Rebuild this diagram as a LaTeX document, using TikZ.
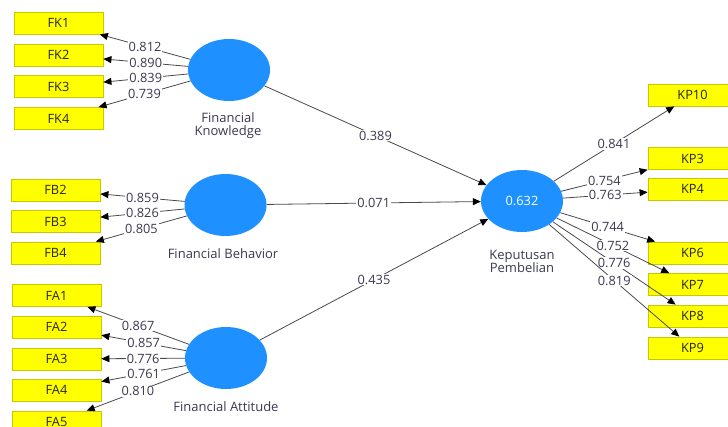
\documentclass[tikz,border=0pt]{standalone}
\usepackage{fontspec}
\setmainfont{Open Sans}
\usetikzlibrary{arrows.meta,shapes.geometric}
\definecolor{lvblue}{HTML}{1E90FF}
\definecolor{mvyellow}{HTML}{FFFF00}
\definecolor{mvborder}{HTML}{C8C800}
\definecolor{lbltext}{HTML}{3A3A50}
\definecolor{boxtext}{HTML}{262626}
\definecolor{linegray}{HTML}{4A4A4A}
\tikzset{
  mv/.style={draw=mvborder, fill=mvyellow, line width=0.8pt, minimum width=89pt, minimum height=22pt, inner sep=0pt, text=boxtext, font=\fontsize{12.8}{14}\selectfont},
  lv/.style={ellipse, fill=lvblue, minimum width=82pt, minimum height=62pt, inner sep=0pt, text=white, font=\fontsize{12.8}{14}\selectfont},
  lvname/.style={align=center, text=lbltext, font=\fontsize{13}{14}\selectfont},
  conn/.style={draw=linegray, line width=0.8pt, -{Triangle[length=8pt,width=7pt,color=black]}},
  wt/.style={fill=white, inner sep=1pt, text=lbltext, font=\fontsize{12.8}{14}\selectfont, pos=0.5}
}
\begin{document}
\begin{tikzpicture}[x=1pt,y=-1pt]
\path[use as bounding box, clip] (0,0) rectangle (728,427);
\fill[white] (0,0) rectangle (728,427);
% latent variables
\node[lv] (fk) at (229,70) {};
\node[lv] (fb) at (225.5,205) {};
\node[lv] (fa) at (226,358) {};
\node[lv] (kp) at (522,201) {0.632};
\node[lvname] (fkn) at (228,126) {Financial\\[-1pt]Knowledge};
\node[lvname] (fbn) at (223,254) {Financial Behavior};
\node[lvname] (fan) at (226,407) {Financial Attitude};
\node[lvname] (kpn) at (522,261) {Keputusan\\[-1pt]Pembelian};
% indicators
\node[mv] (fk1) at (58.5,23) {FK1};
\node[mv] (fk2) at (58.5,55) {FK2};
\node[mv] (fk3) at (58.5,86.5) {FK3};
\node[mv] (fk4) at (58.5,118.5) {FK4};
\node[mv] (fb2) at (55.5,190) {FB2};
\node[mv] (fb3) at (55.5,221.5) {FB3};
\node[mv] (fb4) at (55.5,253) {FB4};
\node[mv] (fa1) at (56.5,295.5) {FA1};
\node[mv] (fa2) at (56.5,327) {FA2};
\node[mv] (fa3) at (56.5,359) {FA3};
\node[mv] (fa4) at (56.5,390) {FA4};
\node[mv] (fa5) at (56.5,422) {FA5};
\node[mv] (kp10) at (692.5,95) {KP10};
\node[mv] (kp3) at (692.5,158.5) {KP3};
\node[mv] (kp4) at (692.5,189) {KP4};
\node[mv] (kp6) at (692.5,253) {KP6};
\node[mv] (kp7) at (692.5,284.5) {KP7};
\node[mv] (kp8) at (692.5,316) {KP8};
\node[mv] (kp9) at (692.5,348) {KP9};
% outer loadings
\draw[conn] (fk) -- node[wt] (l1) {0.812} (fk1);
\draw[conn] (fk) -- node[wt] (l2) {0.890} (fk2);
\draw[conn] (fk) -- node[wt] (l3) {0.839} (fk3);
\draw[conn] (fk) -- node[wt] (l4) {0.739} (fk4);
\draw[conn] (fb) -- node[wt] (l5) {0.859} (fb2);
\draw[conn] (fb) -- node[wt] (l6) {0.826} (fb3);
\draw[conn] (fb) -- node[wt] (l7) {0.805} (fb4);
\draw[conn] (fa) -- node[wt] (l8) {0.867} (fa1);
\draw[conn] (fa) -- node[wt] (l9) {0.857} (fa2);
\draw[conn] (fa) -- node[wt] (l10) {0.776} (fa3);
\draw[conn] (fa) -- node[wt] (l11) {0.761} (fa4);
\draw[conn] (fa) -- node[wt] (l12) {0.810} (fa5);
\draw[conn] (kp) -- node[wt] (l13) {0.841} (kp10);
\draw[conn] (kp) -- node[wt] (l14) {0.754} (kp3);
\draw[conn] (kp) -- node[wt] (l15) {0.763} (kp4);
\draw[conn] (kp) -- node[wt] (l16) {0.744} (kp6);
\draw[conn] (kp) -- node[wt] (l17) {0.752} (kp7);
\draw[conn] (kp) -- node[wt] (l18) {0.776} (kp8);
\draw[conn] (kp) -- node[wt] (l19) {0.819} (kp9);
% structural paths
\draw[conn] (fk) -- node[wt] (p1) {0.389} (kp);
\draw[conn] (fb) -- node[wt] (p2) {0.071} (kp);
\draw[conn] (fa) -- node[wt] (p3) {0.435} (kp);
\end{tikzpicture}
\end{document}
